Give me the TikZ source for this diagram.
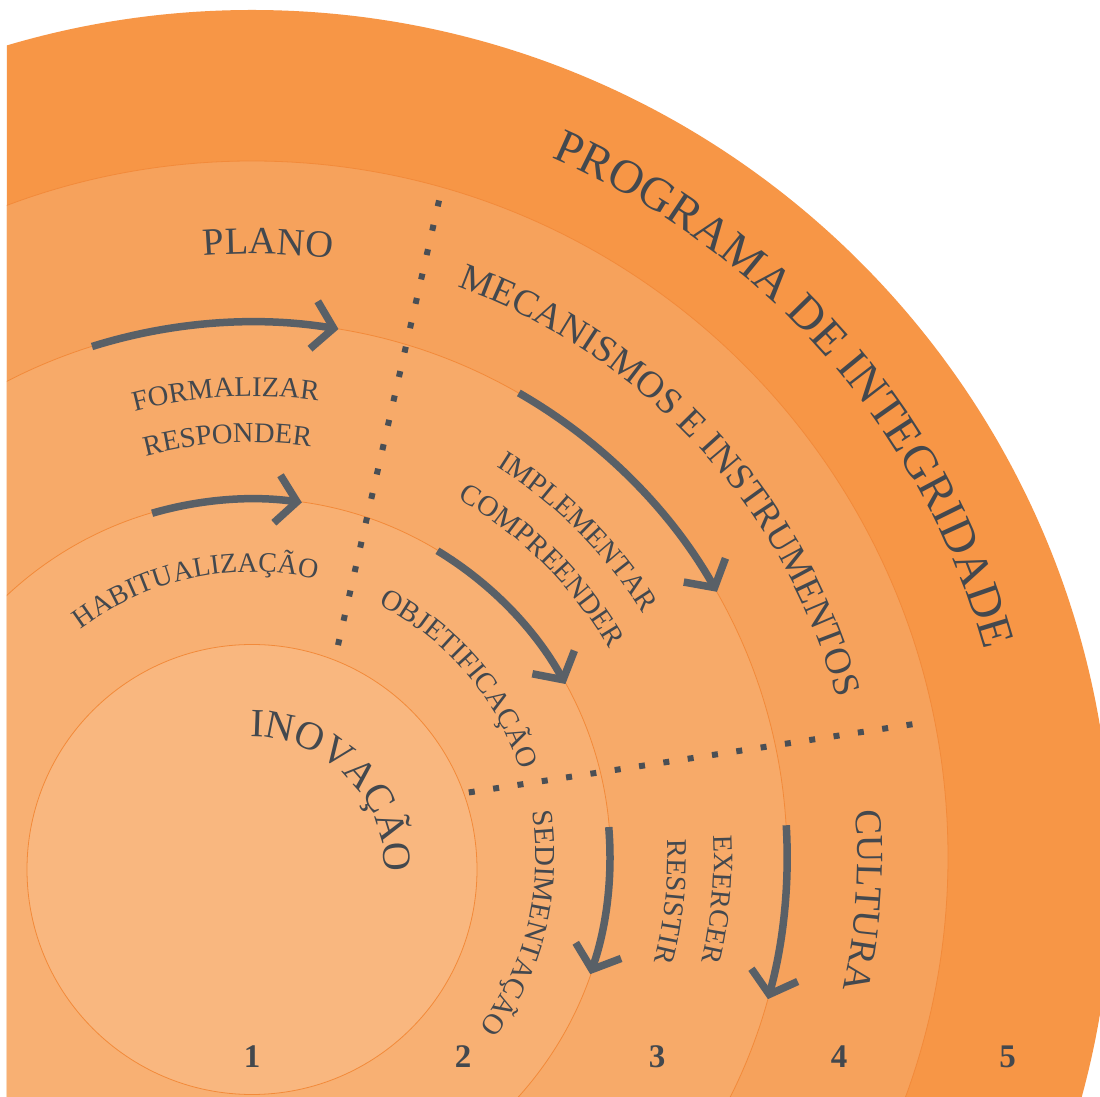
\documentclass[tikz,border=0pt]{standalone}
\usepackage{fontspec}
\setmainfont{Liberation Serif}
\usetikzlibrary{decorations.text,arrows.meta}
\definecolor{cfive}{HTML}{F79646}
\definecolor{cfour}{HTML}{F6A25C}
\definecolor{cthree}{HTML}{F7AA69}
\definecolor{ctwo}{HTML}{F8B073}
\definecolor{cone}{HTML}{F9B77F}
\definecolor{bordc}{HTML}{F28A3A}
\definecolor{txtc}{HTML}{43484E}
\definecolor{arrowc}{HTML}{596067}
\definecolor{dotc}{HTML}{4A4F55}
\newcommand{\ringtext}[4]{%
  \path[decorate,decoration={text along path,text align=center,text color=txtc,
    text={|\fontsize{#3}{#3}\selectfont|#4}}]
    ({#1+60}:#2) arc[start angle={#1+60}, end angle={#1-60}, radius=#2];}
\begin{document}
\begin{tikzpicture}[x=1pt,y=1pt,
  band/.style={draw=bordc, line width=0.8pt},
  flow/.style={draw=arrowc, line width=7.5pt, -{Straight Barb[length=20pt,width=48pt]}},
  dots/.style={draw=dotc, line width=6pt, shorten <=-3pt, shorten >=-3pt},
  num/.style={text=txtc, font=\fontsize{33}{33}\selectfont\bfseries, inner sep=0pt}
]
\useasboundingbox (-252,-240) rectangle (848,857);
\fill[white] (-252,-240) rectangle (848,857);
\begin{scope}
  \clip (-245,-240) rectangle (848,857);
  \fill[cfive] (0,-13) circle[radius=860];
  \path[band, fill=cfour] (0,0) circle[radius=696];
  \path[band, fill=cthree] (0,0) circle[radius=535];
  \path[band, fill=ctwo] (0,0) circle[radius=358.5];
  \path[band, fill=cone] (0,-12.5) circle[radius=225];
\end{scope}

% dotted separators
\coordinate (dA1) at (186.4,653.6);
\coordinate (dA2) at (86.5,214);
\coordinate (dB1) at (219.8,65);
\coordinate (dB2) at (657.5,132.3);
\draw[dots, dash pattern=on 6pt off 19pt] (dA1) -- (dA2);
\draw[dots, dash pattern=on 6pt off 18.6pt] (dB1) -- (dB2);

% arrows
\draw[flow] (107.4:535) arc[start angle=107.4, end angle=80.7, radius=535];
\draw[flow] (106.2:358) arc[start angle=106.2, end angle=82, radius=358];
\draw[flow] (60.1:535.3) arc[start angle=60.1, end angle=29.7, radius=535.3];
\draw[flow] (58.8:358) arc[start angle=58.8, end angle=28.9, radius=358];
\draw[flow] (4.8:358) arc[start angle=4.8, end angle=-19.1, radius=358];
\draw[flow] (3.4:535.2) arc[start angle=3.4, end angle=-15.4, radius=535.2];

% ring labels
\ringtext{41.3}{761}{47.5}{PROGRAMA DE INTEGRIDADE}
\ringtext{42.7}{606}{37.5}{MECANISMOS E INSTRUMENTOS}
\ringtext{88.5}{603}{38.5}{PLANO}
\ringtext{-4.1}{605.5}{38}{CULTURA}
\ringtext{93.25}{460.7}{28.5}{FORMALIZAR}
\ringtext{93.37}{414.7}{28.5}{RESPONDER}
\ringtext{44.95}{460.6}{29}{IMPLEMENTAR}
\ringtext{45.15}{413.3}{29}{COMPREENDER}
\ringtext{-5.2}{461.9}{28}{EXERCER}
\ringtext{-6.06}{415.7}{28.5}{RESISTIR}
\ringtext{101.95}{285}{28}{HABITUALIZAÇÃO}
\ringtext{40.7}{282.3}{29}{OBJETIFICAÇÃO}
\ringtext{-13.9}{284}{29}{SEDIMENTAÇÃO}
\begin{scope}[shift={(0,-12.5)}]
  \ringtext{44.7}{132.5}{40}{INOVAÇÃO}
\end{scope}

% numbers
\node[num] (n1) at (0,-200) {1};
\node[num] (n2) at (211,-200) {2};
\node[num] (n3) at (405,-200) {3};
\node[num] (n4) at (587,-200) {4};
\node[num] (n5) at (755.7,-200) {5};
\end{tikzpicture}
\end{document}
